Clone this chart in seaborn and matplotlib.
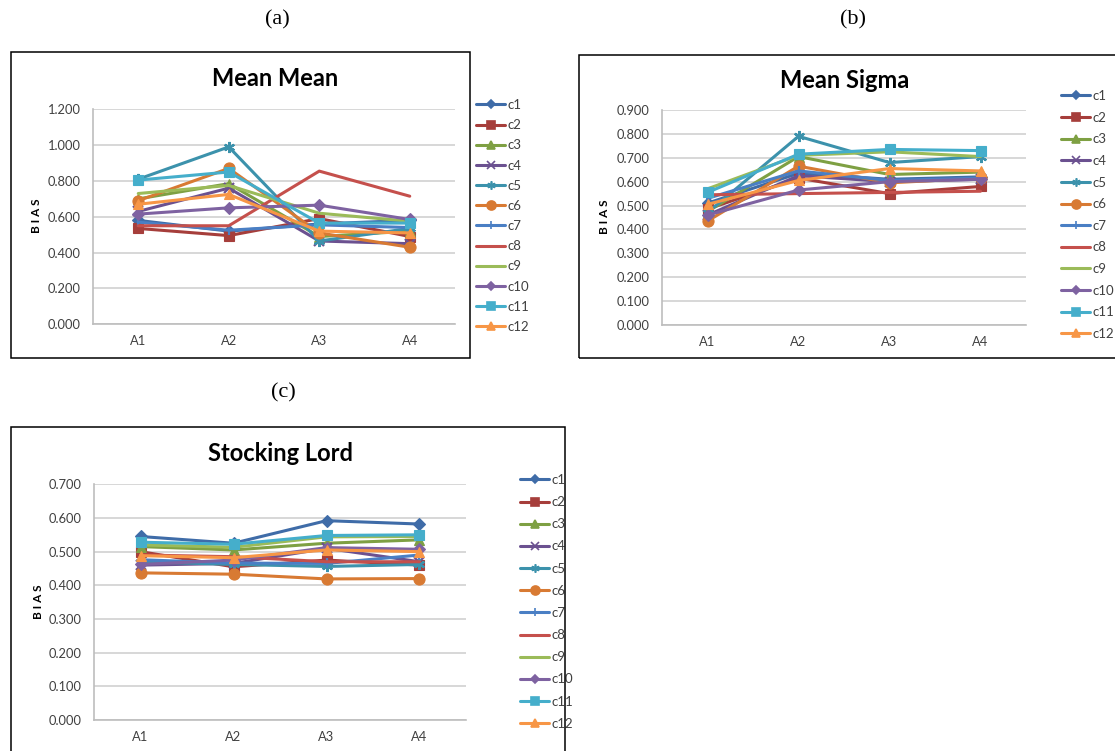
import matplotlib
matplotlib.use("Agg")
import matplotlib.pyplot as plt
from matplotlib.patches import Rectangle
from matplotlib.lines import Line2D
import seaborn as sns
import pandas as pd

# ---------------- data ----------------
categories = ["A1", "A2", "A3", "A4"]
series = ["c1", "c2", "c3", "c4", "c5", "c6", "c7", "c8", "c9", "c10", "c11", "c12"]

mean_mean = [
    [0.580, 0.520, 0.560, 0.580],   # c1
    [0.535, 0.495, 0.590, 0.490],   # c2
    [0.700, 0.785, 0.490, 0.520],   # c3
    [0.630, 0.760, 0.465, 0.450],   # c4
    [0.810, 0.990, 0.465, 0.535],   # c5
    [0.690, 0.870, 0.510, 0.430],   # c6
    [0.570, 0.525, 0.555, 0.540],   # c7
    [0.550, 0.550, 0.855, 0.715],   # c8
    [0.730, 0.775, 0.620, 0.575],   # c9
    [0.615, 0.650, 0.665, 0.585],   # c10
    [0.805, 0.850, 0.565, 0.565],   # c11
    [0.670, 0.725, 0.520, 0.510],   # c12
]
mean_sigma = [
    [0.510, 0.635, 0.610, 0.620],
    [0.485, 0.615, 0.550, 0.580],
    [0.475, 0.705, 0.630, 0.640],
    [0.460, 0.625, 0.600, 0.610],
    [0.470, 0.790, 0.680, 0.705],
    [0.435, 0.665, 0.595, 0.615],
    [0.530, 0.645, 0.605, 0.615],
    [0.545, 0.550, 0.555, 0.560],
    [0.570, 0.710, 0.725, 0.705],
    [0.460, 0.565, 0.600, 0.610],
    [0.555, 0.715, 0.735, 0.730],
    [0.505, 0.605, 0.655, 0.645],
]
stocking_lord = [
    [0.545, 0.525, 0.592, 0.582],
    [0.500, 0.455, 0.475, 0.460],
    [0.515, 0.505, 0.525, 0.535],
    [0.460, 0.465, 0.510, 0.470],
    [0.470, 0.462, 0.456, 0.462],
    [0.437, 0.433, 0.419, 0.420],
    [0.476, 0.466, 0.465, 0.490],
    [0.490, 0.485, 0.470, 0.470],
    [0.520, 0.513, 0.544, 0.545],
    [0.462, 0.475, 0.512, 0.507],
    [0.528, 0.522, 0.548, 0.550],
    [0.488, 0.482, 0.505, 0.500],
]
titles = ["Mean Mean", "Mean Sigma", "Stocking Lord"]
panel_labels = ["(a)", "(b)", "(c)"]
ymax = [1.2, 0.9, 0.7]
ystep = [0.2, 0.1, 0.1]

# ---------------- style ----------------
colors = ["#3F6CA8", "#A63E3B", "#7EA043", "#6B5190", "#3C92AC", "#D87A33",
          "#4A7FC4", "#C5504C", "#9BBB59", "#7E62A1", "#45AECB", "#F79646"]
markers = ["D", "s", "^", "x", (6, 2, 0), "o", "|", None, None, "D", "s", "^"]
msizes = [6, 7.5, 7.5, 7, 8, 8, 7, 0, 0, 6, 7.5, 7.5]
legend_ms = [4.5, 6, 6, 6, 6, 6.5, 6, 0, 0, 4.5, 6, 6]

sns.set_theme(style="white")
plt.rcParams["font.family"] = ["Lato", "DejaVu Sans"]

W, H = 1115, 751
fig = plt.figure(figsize=(W / 100, H / 100), dpi=100)


def fx(x):
    return x / W


def fy(y):
    return 1 - y / H


layouts = [
    dict(ax=(93, 109.3, 455, 324.3), frame=(10.5, 52.5, 469.5, 357.5), title=(275, 78),
         plabel=(277, 20), ylab=(36, 216), leg=(476, 99), ls=0.62),
    dict(ax=(662, 110, 1026, 325), frame=(578.5, 54.5, 1125, 357.5), title=(845, 80),
         plabel=(853, 20), ylab=(605, 217), leg=(1061, 90), ls=0.73),
    dict(ax=(94, 484.3, 466, 720), frame=(10.5, 426.5, 565, 760), title=(281, 453),
         plabel=(283, 393), ylab=(38, 602), leg=(520, 474), ls=0.77),
]
datasets = [mean_mean, mean_sigma, stocking_lord]

for p, (lay, data) in enumerate(zip(layouts, datasets)):
    l, t, r, b = lay["ax"]
    ax = fig.add_axes([fx(l), fy(b), fx(r - l), (b - t) / H])
    rows = []
    for s, vals in zip(series, data):
        for c, v in zip(categories, vals):
            rows.append({"cat": c, "value": v, "series": s})
    df = pd.DataFrame(rows)
    for i, s in enumerate(series):
        sub = df[df["series"] == s]
        kw = dict(color=colors[i], linewidth=2.2, ax=ax, legend=False)
        if markers[i] is not None:
            kw.update(marker=markers[i], markersize=msizes[i],
                      markeredgecolor=colors[i],
                      markeredgewidth=1.6 if markers[i] in ("x", "|", (6, 2, 0)) else 0.8)
        sns.lineplot(data=sub, x="cat", y="value", sort=False, **kw)

    ax.set_xlim(-0.5, 3.5)
    ax.set_ylim(0, ymax[p])
    n = int(round(ymax[p] / ystep[p]))
    ticks = [k * ystep[p] for k in range(n + 1)]
    ax.set_yticks(ticks)
    ax.set_yticklabels([f"{v:.3f}" for v in ticks])
    ax.set_xlabel("")
    ax.set_ylabel("")
    ax.grid(axis="y", color="#D4D4D4", linewidth=1.3)
    ax.grid(axis="x", visible=False)
    ax.set_axisbelow(True)
    for sp in ["top", "right"]:
        ax.spines[sp].set_visible(False)
    for sp in ["left", "bottom"]:
        ax.spines[sp].set_color("#BDBDBD")
        ax.spines[sp].set_linewidth(1.2)
    ax.tick_params(axis="both", length=0, labelsize=9.3, labelcolor="#404040")
    ax.tick_params(axis="y", pad=9)
    ax.tick_params(axis="x", pad=8)
    ax.set_facecolor("white")

    fl, ft, fr, fb = lay["frame"]
    fig.patches.append(Rectangle((fx(fl), fy(fb)), fx(fr - fl), (fb - ft) / H,
                                 transform=fig.transFigure, fill=False,
                                 edgecolor="black", linewidth=1.1, zorder=0))
    fig.text(fx(lay["title"][0]), fy(lay["title"][1]), titles[p], ha="center", va="center",
             fontsize=17, fontweight="bold", color="black")
    fig.text(fx(lay["plabel"][0]), fy(lay["plabel"][1]), panel_labels[p], ha="center", va="center",
             fontsize=16, family=["Liberation Serif", "DejaVu Serif"], color="black")
    fig.text(fx(lay["ylab"][0]), fy(lay["ylab"][1]), "B I A S", ha="center", va="center",
             rotation=90, fontsize=8.5, fontweight="bold", color="black")
    handles = []
    for i, s in enumerate(series):
        handles.append(Line2D([0], [0], color=colors[i], linewidth=2.2,
                              marker=markers[i] if markers[i] is not None else "",
                              markersize=legend_ms[i], markeredgecolor=colors[i],
                              markeredgewidth=1.2))
    ax.legend(handles, series, loc="upper left",
              bbox_to_anchor=(fx(lay["leg"][0]), fy(lay["leg"][1])),
              bbox_transform=fig.transFigure, frameon=False, fontsize=9.5,
              handlelength=2.2, handletextpad=0.15, labelspacing=lay["ls"],
              borderpad=0, borderaxespad=0, labelcolor="#404040")

fig.savefig("out.png", dpi=100, facecolor="white")
